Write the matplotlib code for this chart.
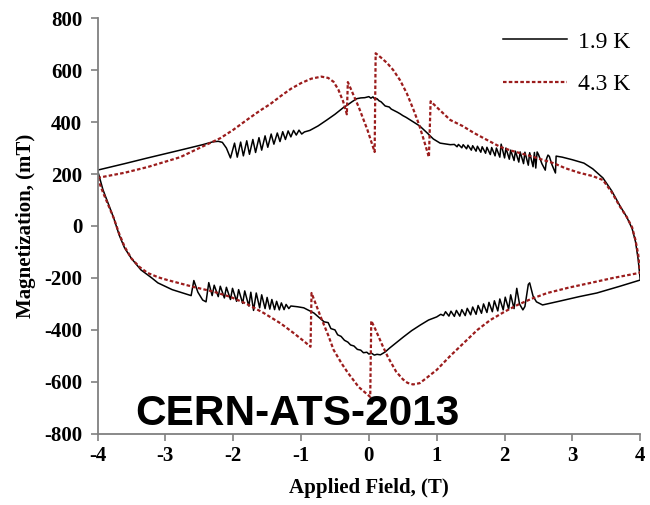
import matplotlib
matplotlib.use('Agg')
import matplotlib.pyplot as plt

plt.rcParams['font.family'] = ['Liberation Serif', 'DejaVu Serif']
plt.rcParams['axes.unicode_minus'] = False

# 4.3 K loop, lower branch (field rising -4 -> 4)
red_lo_x = [-4.00, -3.92, -3.84, -3.76, -3.68, -3.60, -3.50, -3.38, -3.26, -3.10, -2.97,
            -2.58, -2.30, -2.04, -1.80, -1.55, -1.30, -1.11, -0.95, -0.86,
            -0.845, -0.71, -0.60, -0.52, -0.40, -0.31, -0.15, 0.02,
            0.035, 0.10, 0.20, 0.28, 0.40, 0.50, 0.57, 0.65, 0.75, 0.85, 1.00, 1.20,
            1.40, 1.60, 1.79, 2.00, 2.19, 2.40, 2.63, 2.95, 3.27, 3.60, 4.00]
red_lo_y = [185, 130, 80, 30, -30, -80, -125, -158, -181, -198, -208,
            -235, -252, -273, -300, -335, -375, -412, -445, -465,
            -258, -350, -420, -477, -530, -565, -620, -658,
            -365, -400, -460, -504, -560, -590, -604, -610, -605, -585, -554, -500,
            -450, -400, -362, -330, -304, -280, -258, -237, -219, -200, -180]

# 4.3 K loop, upper branch (field falling 4 -> -4)
red_up_x = [4.00, 3.97, 3.93, 3.88, 3.80, 3.70, 3.58, 3.45, 3.30, 3.10, 2.90, 2.72,
            2.40, 2.10, 1.94, 1.75, 1.55, 1.38, 1.20, 1.05, 0.91,
            0.885, 0.81, 0.74, 0.66, 0.56, 0.46, 0.36, 0.27, 0.18, 0.10,
            0.085, -0.02, -0.15, -0.31,
            -0.325, -0.38, -0.45, -0.52, -0.60, -0.70, -0.85, -1.00, -1.15, -1.30,
            -1.45, -1.60, -1.79, -2.00, -2.19, -2.50, -2.78, -3.26, -3.60, -4.00]
red_up_y = [-180, -110, -55, -5, 35, 75, 130, 177, 192, 205, 222, 242,
            268, 290, 304, 330, 358, 385, 408, 445, 480,
            265, 331, 390, 446, 510, 561, 600, 627, 648, 665,
            285, 369, 458, 554,
            430, 480, 525, 555, 570, 575, 567, 550, 528, 500,
            470, 445, 410, 370, 338, 300, 265, 227, 205, 185]

# 1.9 K loop, lower branch (field rising)
blk_lo_x = [-4.00, -3.92, -3.84, -3.76, -3.68, -3.60, -3.50, -3.36, -3.20, -3.11, -2.90, -2.62,
            -2.58, -2.52, -2.45, -2.40, -2.36,
            -2.31, -2.28, -2.22, -2.19, -2.13, -2.10, -2.04, -2.01, -1.95, -1.92,
            -1.86, -1.83, -1.77, -1.74, -1.70, -1.66, -1.61, -1.58, -1.53, -1.50,
            -1.46, -1.43, -1.39, -1.36, -1.32, -1.29, -1.25, -1.22, -1.18, -1.15,
            -1.05, -0.96, -0.81, -0.66, -0.60, -0.56, -0.50, -0.46, -0.41, -0.36,
            -0.31, -0.27, -0.22, -0.17, -0.12, -0.08, -0.03, 0.00, 0.04, 0.08, 0.12,
            0.17, 0.24, 0.31, 0.41, 0.51, 0.63, 0.76, 0.88, 1.00, 1.06,
            1.10, 1.13, 1.18, 1.21, 1.26, 1.29, 1.34, 1.37, 1.42, 1.45, 1.50, 1.53,
            1.58, 1.61, 1.66, 1.69, 1.74, 1.77, 1.82, 1.85, 1.90, 1.93, 1.98, 2.01,
            2.06, 2.09, 2.14, 2.18, 2.22, 2.27, 2.30, 2.35, 2.37, 2.42, 2.47, 2.56,
            2.80, 3.10, 3.36, 3.70, 4.00]
blk_lo_y = [215, 140, 85, 30, -35, -85, -125, -169, -200, -219, -245, -268,
            -210, -255, -285, -292, -218,
            -268, -228, -272, -232, -277, -236, -283, -240, -290, -245,
            -298, -250, -308, -255, -325, -258, -315, -265, -318, -275,
            -320, -283, -322, -290, -323, -296, -322, -302, -318, -308,
            -311, -315, -335, -369, -372, -395, -400, -419, -425, -440,
            -447, -458, -462, -475, -478, -488, -486, -493, -490, -497, -494,
            -496, -485, -469, -448, -427, -403, -381, -362, -350, -340,
            -345, -330, -347, -328, -348, -325, -347, -322, -345, -317, -342, -312,
            -340, -306, -336, -300, -333, -294, -330, -288, -327, -281, -323, -274,
            -320, -265, -318, -240, -300, -323, -310, -225, -219, -270, -292, -304,
            -290, -272, -258, -232, -208]

# 1.9 K loop, upper branch (field falling)
blk_up_x = [4.00, 3.97, 3.93, 3.88, 3.80, 3.70, 3.58, 3.45, 3.30, 3.17, 3.00, 2.85, 2.76,
            2.75, 2.70, 2.66, 2.64, 2.62, 2.60, 2.55, 2.50, 2.48,
            2.46, 2.44, 2.42, 2.37, 2.35, 2.30, 2.28, 2.23, 2.21, 2.16, 2.14, 2.09,
            2.07, 2.02, 2.00, 1.95, 1.93, 1.88, 1.86, 1.81, 1.79, 1.74, 1.72, 1.67,
            1.65, 1.60, 1.58, 1.53, 1.51, 1.46, 1.44, 1.39, 1.37, 1.32, 1.30, 1.26,
            1.20, 1.05, 0.95, 0.86, 0.75, 0.66, 0.61, 0.55, 0.50, 0.46, 0.42, 0.36,
            0.33, 0.30, 0.24, 0.21, 0.18, 0.15, 0.12, 0.09, 0.06, 0.03, 0.00, -0.06,
            -0.12, -0.18, -0.25, -0.32, -0.38, -0.50, -0.62, -0.75, -0.87, -0.95,
            -0.99, -1.03, -1.07, -1.11, -1.15, -1.19, -1.23, -1.27, -1.31, -1.35,
            -1.40, -1.44, -1.49, -1.53, -1.58, -1.62, -1.67, -1.71, -1.76, -1.80,
            -1.85, -1.89, -1.94, -1.98, -2.04, -2.10, -2.16, -2.22, -2.30, -2.45,
            -2.78, -3.26, -3.60, -4.00]
blk_up_y = [-208, -130, -60, -10, 35, 78, 135, 185, 220, 242, 255, 265, 269,
            204, 235, 268, 273, 260, 215, 240, 275, 285,
            223, 283, 228, 282, 234, 284, 240, 285, 246, 288, 252, 292,
            257, 300, 262, 315, 265, 300, 270, 302, 275, 303, 280, 305,
            284, 307, 288, 309, 292, 311, 297, 313, 301, 314, 305, 314,
            313, 319, 335, 358, 385, 400, 408, 418, 425, 432, 438, 446,
            450, 458, 462, 470, 478, 482, 490, 488, 497, 492, 498, 494,
            493, 490, 478, 465, 455, 430, 408, 385, 368, 362,
            354, 369, 350, 368, 343, 366, 333, 363, 325, 358,
            315, 354, 303, 347, 292, 340, 283, 333, 276, 328,
            270, 323, 265, 319, 262, 300, 322, 326, 324, 313,
            292, 262, 240, 215]

fig = plt.figure(figsize=(6.5, 5.05), dpi=100)
ax = fig.add_axes([0.150, 0.141, 0.835, 0.823])

ax.plot(blk_lo_x + blk_up_x, blk_lo_y + blk_up_y, '-', color='black', lw=1.1, label='1.9 K')
ax.plot(red_lo_x + red_up_x, red_lo_y + red_up_y, '--', color='#9b1c1c', lw=1.6,
        dashes=(1.6, 1.0), label='4.3 K')

ax.set_xlim(-4, 4)
ax.set_ylim(-800, 800)
ax.set_xticks(range(-4, 5))
ax.set_yticks(range(-800, 801, 200))
for s in ['top', 'right']:
    ax.spines[s].set_visible(False)
for s in ['left', 'bottom']:
    ax.spines[s].set_color('#808080')
    ax.spines[s].set_linewidth(1.3)
ax.tick_params(direction='out', length=5, width=1.2, color='#808080', labelsize=15)
ax.tick_params(axis='y', pad=6)
for lab in ax.get_xticklabels() + ax.get_yticklabels():
    lab.set_fontweight('bold')

ax.set_xlabel('Applied Field, (T)', fontsize=15, fontweight='bold', labelpad=9)
ax.set_ylabel('Magnetization, (mT)', fontsize=15, fontweight='bold', labelpad=6)

ax.legend(loc='upper right', bbox_to_anchor=(1.02, 1.02), frameon=False, fontsize=17,
          handlelength=2.7, labelspacing=0.9, handletextpad=0.45)

ax.text(0.07, 0.022, 'CERN-ATS-2013', transform=ax.transAxes, fontsize=30.5,
        fontweight='bold', family='Liberation Sans', color='black')

fig.savefig('out.png', dpi=100)
